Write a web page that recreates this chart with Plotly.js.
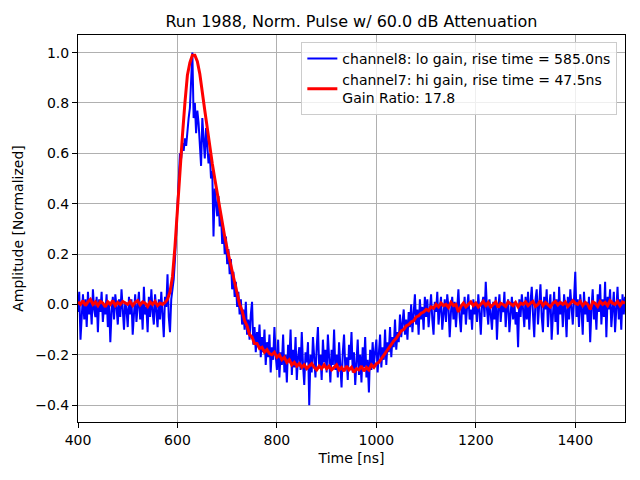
<!DOCTYPE html>
<html>
<head>
<meta charset="utf-8">
<script src="https://cdn.plot.ly/plotly-3.0.1.min.js"></script>
<style>html,body{margin:0;padding:0;background:#fff;}#chart{width:640px;height:480px;}</style>
</head>
<body>
<div id="chart"></div>
<script>
// Time axis start (ns) and sample steps (ns)
const tStart = 400;
const stepCh8 = 2.5;
const stepCh7 = 5;

// channel8: lo gain (blue), one value per 2.5 ns from 400 to 1500 ns
const ch8_400 = [-0.03, 0.05, -0.14, -0.02, 0.04, -0.06, 0.02, -0.09, 0.05, -0.04, 0.01, -0.08, 0.06, -0.02, -0.05, 0.03, -0.11, 0.02, -0.03, 0.05,
                 -0.07, 0.00, -0.04, 0.04, -0.09, 0.01, -0.15, -0.03, 0.03, -0.06, 0.04, -0.01, -0.08, 0.02, -0.05, 0.06, -0.03, -0.10, 0.01, -0.02];
const ch8_500 = [-0.09, 0.03, -0.04, 0.02, -0.12, -0.01, 0.04, -0.07, -0.02, 0.05, -0.06, 0.01, -0.10, 0.07, -0.04, -0.01, -0.11, 0.03, -0.05, 0.06,
                 -0.03, -0.08, 0.04, -0.02, -0.09, 0.02, -0.06, 0.05, -0.04, -0.13, 0.03, -0.01, 0.12, -0.05, -0.11, 0.02, 0.06, 0.10, 0.18, 0.30];
const ch8_600 = [0.42, 0.52, 0.60, 0.58, 0.64, 0.61, 0.66, 0.63, 0.70, 0.74, 0.78, 0.88, 1.00, 0.74, 0.80, 0.68, 0.77, 0.72, 0.62, 0.55,
                 0.74, 0.66, 0.58, 0.70, 0.62, 0.56, 0.60, 0.50, 0.53, 0.27, 0.46, 0.40, 0.35, 0.43, 0.31, 0.36, 0.24, 0.30, 0.20, 0.27];
const ch8_700 = [0.16, 0.22, 0.12, 0.18, 0.06, 0.13, 0.03, 0.09, -0.01, 0.05, -0.04, 0.02, -0.08, -0.02, -0.10, 0.01, -0.12, -0.06, -0.14, -0.04,
                 0.01, -0.16, -0.09, -0.19, -0.11, -0.17, -0.08, -0.21, -0.13, -0.19, -0.10, -0.24, -0.15, -0.21, -0.12, -0.27, -0.17, -0.22, -0.09, -0.20];
const ch8_800 = [-0.26, -0.14, -0.29, -0.19, -0.24, -0.12, -0.27, -0.20, -0.31, -0.16, -0.22, -0.10, -0.28, -0.18, -0.25, -0.13, -0.30, -0.21, -0.17, -0.26,
                 -0.11, -0.24, -0.32, -0.19, -0.23, -0.15, -0.40, -0.20, -0.27, -0.13, -0.22, -0.29, -0.17, -0.09, -0.25, -0.20, -0.30, -0.14, -0.23, -0.18];
const ch8_900 = [-0.27, -0.12, -0.21, -0.31, -0.18, -0.24, -0.10, -0.26, -0.20, -0.29, -0.15, -0.23, -0.33, -0.19, -0.12, -0.25, -0.21, -0.30, -0.16, -0.22,
                 -0.11, -0.27, -0.19, -0.32, -0.24, -0.14, -0.28, -0.20, -0.31, -0.17, -0.25, -0.13, -0.29, -0.22, -0.35, -0.18, -0.26, -0.15, -0.24, -0.19];
const ch8_1000 = [-0.14, -0.27, -0.20, -0.12, -0.25, -0.17, -0.22, -0.10, -0.24, -0.15, -0.19, -0.09, -0.21, -0.13, -0.17, -0.06, -0.18, -0.11, -0.15, -0.04,
                  -0.13, -0.08, -0.02, -0.12, -0.06, -0.14, -0.03, -0.09, 0.00, -0.11, -0.05, 0.04, -0.08, -0.02, -0.12, 0.02, -0.06, -0.01, -0.10, 0.03];
const ch8_1100 = [-0.05, 0.02, -0.09, -0.01, 0.04, -0.06, -0.12, 0.01, -0.03, 0.05, -0.08, -0.02, 0.03, -0.10, -0.04, 0.02, -0.07, 0.04, -0.01, -0.13,
                  -0.03, 0.03, -0.06, 0.01, -0.09, -0.02, 0.06, -0.05, -0.11, 0.00, -0.04, 0.03, -0.08, -0.01, 0.04, -0.06, -0.02, -0.10, 0.02, -0.04];
const ch8_1200 = [0.01, -0.07, 0.04, -0.03, -0.12, 0.00, 0.03, -0.05, 0.09, -0.02, -0.08, 0.02, -0.04, -0.10, 0.01, -0.06, 0.03, -0.14, -0.02, 0.04,
                  -0.07, 0.00, -0.03, 0.05, -0.09, -0.01, 0.02, -0.11, -0.04, 0.03, -0.06, 0.01, -0.08, -0.03, -0.17, 0.02, -0.05, 0.04, -0.02, -0.09];
const ch8_1300 = [0.03, -0.06, 0.05, -0.10, 0.01, 0.07, -0.04, -0.13, 0.02, 0.06, -0.08, 0.00, 0.08, -0.05, -0.11, 0.03, -0.02, 0.06, -0.09, -0.01,
                  0.04, -0.14, -0.03, 0.05, -0.07, 0.02, -0.12, 0.07, -0.04, 0.01, -0.09, 0.04, -0.02, -0.13, 0.03, -0.06, 0.06, -0.03, -0.08, 0.02];
const ch8_1400 = [0.13, -0.05, 0.02, -0.09, 0.04, -0.02, -0.12, 0.05, -0.04, 0.01, -0.07, 0.03, -0.15, -0.02, 0.06, -0.06, 0.00, -0.10, 0.04, -0.03,
                  0.08, -0.08, 0.02, -0.05, 0.09, -0.13, 0.03, -0.02, 0.06, -0.09, 0.01, 0.05, -0.11, -0.03, 0.07, -0.06, 0.02, -0.10, 0.04, -0.04, 0.03];

// channel7: hi gain (red), one value per 5 ns from 400 to 1500 ns
const ch7_400 = [0.010, 0.000, 0.015, -0.005, 0.010, 0.020, 0.000, 0.010, -0.005, 0.012, 0.005, -0.010, 0.010, 0.000, 0.015, -0.005, 0.008, 0.000, 0.012, 0.005];
const ch7_500 = [0.000, 0.012, -0.005, 0.008, 0.015, -0.002, 0.010, 0.005, -0.008, 0.010, 0.000, 0.012, -0.005, 0.005, 0.000, 0.008, 0.020, 0.050, 0.110, 0.230];
const ch7_600 = [0.38, 0.56, 0.67, 0.80, 0.91, 0.96, 0.99, 0.99, 0.965, 0.915, 0.85, 0.77, 0.70, 0.62, 0.56, 0.50, 0.44, 0.38, 0.32, 0.27];
const ch7_700 = [0.220, 0.175, 0.135, 0.080, 0.045, 0.000, -0.025, -0.065, -0.085, -0.120, -0.130, -0.155, -0.155, -0.175, -0.170, -0.190, -0.180, -0.195, -0.200, -0.190];
const ch7_800 = [-0.210, -0.200, -0.220, -0.210, -0.230, -0.220, -0.240, -0.230, -0.245, -0.235, -0.250, -0.240, -0.255, -0.245, -0.235, -0.250, -0.260, -0.245, -0.255, -0.240];
const ch7_900 = [-0.255, -0.245, -0.260, -0.250, -0.240, -0.260, -0.250, -0.265, -0.245, -0.260, -0.250, -0.270, -0.255, -0.260, -0.245, -0.265, -0.250, -0.260, -0.240, -0.250];
const ch7_1000 = [-0.235, -0.230, -0.215, -0.200, -0.190, -0.170, -0.160, -0.145, -0.135, -0.120, -0.105, -0.100, -0.085, -0.080, -0.070, -0.065, -0.050, -0.045, -0.035, -0.030];
const ch7_1100 = [-0.020, -0.025, -0.010, -0.015, 0.000, -0.010, 0.005, -0.005, 0.000, -0.012, 0.008, -0.005, 0.000, -0.030, -0.008, 0.005, -0.010, 0.000, 0.010, -0.005];
const ch7_1200 = [0.005, -0.010, 0.000, 0.012, -0.005, 0.008, -0.010, 0.000, 0.010, -0.012, 0.005, 0.000, -0.008, 0.010, 0.002, -0.005, 0.008, -0.010, 0.005, 0.000];
const ch7_1300 = [0.010, -0.005, 0.005, 0.012, -0.008, 0.000, 0.015, -0.005, 0.008, 0.000, -0.010, 0.005, 0.012, -0.002, 0.008, 0.000, 0.010, -0.008, 0.005, 0.015];
const ch7_1400 = [0.005, 0.000, 0.012, -0.005, 0.008, 0.000, -0.020, 0.010, 0.005, -0.008, 0.012, 0.000, 0.008, -0.005, 0.015, 0.005, 0.000, 0.012, -0.005, 0.010, 0.005];

const xTicks = [400, 600, 800, 1000, 1200, 1400];
const yTicks = [-0.4, -0.2, 0.0, 0.2, 0.4, 0.6, 0.8, 1.0];

const ch8 = [].concat(ch8_400, ch8_500, ch8_600, ch8_700, ch8_800, ch8_900, ch8_1000, ch8_1100, ch8_1200, ch8_1300, ch8_1400);
const ch7 = [].concat(ch7_400, ch7_500, ch7_600, ch7_700, ch7_800, ch7_900, ch7_1000, ch7_1100, ch7_1200, ch7_1300, ch7_1400);
const t8 = ch8.map((_, i) => tStart + i * stepCh8);
const t7 = ch7.map((_, i) => tStart + i * stepCh7);

const font = "DejaVu Sans, sans-serif";

const traces = [
  {x: t8, y: ch8, type: 'scatter', mode: 'lines', name: 'channel8: lo gain, rise time = 585.0ns',
   line: {color: '#0000ff', width: 2}},
  {x: t7, y: ch7, type: 'scatter', mode: 'lines', name: 'channel7: hi gain, rise time = 47.5ns<br>Gain Ratio: 17.8',
   line: {color: '#ff0000', width: 3}}
];

const layout = {
  width: 640, height: 480,
  margin: {l: 78, r: 15, t: 35, b: 58},
  paper_bgcolor: '#fff', plot_bgcolor: '#fff',
  font: {family: font, size: 14, color: '#000'},
  title: {text: 'Run 1988, Norm. Pulse w/ 60.0 dB Attenuation', font: {family: font, size: 16, color: '#000'},
          x: 0.549, xref: 'container', xanchor: 'center', y: 1 - 21/480, yref: 'container', yanchor: 'middle'},
  xaxis: {range: [400, 1500], tickvals: xTicks, ticktext: xTicks.map(String),
          showgrid: true, gridcolor: '#b0b0b0', gridwidth: 1,
          showline: true, linecolor: '#000', linewidth: 1, mirror: true,
          ticks: 'outside', ticklen: 5, tickcolor: '#000', tickwidth: 1,
          zeroline: false, tickfont: {family: font, size: 14},
          title: {text: 'Time [ns]', font: {family: font, size: 14}, standoff: 6}},
  yaxis: {range: [-0.467, 1.07], tickvals: yTicks, tickformat: '.1f',
          showgrid: true, gridcolor: '#b0b0b0', gridwidth: 1,
          showline: true, linecolor: '#000', linewidth: 1, mirror: true,
          ticks: 'outside', ticklen: 5, tickcolor: '#000', tickwidth: 1,
          zeroline: false, tickfont: {family: font, size: 14},
          title: {text: 'Amplitude [Normalized]', font: {family: font, size: 14}, standoff: 8}},
  showlegend: true,
  legend: {x: 0.986, y: 0.982, xanchor: 'right', yanchor: 'top',
           bgcolor: 'rgba(255,255,255,0.8)', bordercolor: '#cccccc', borderwidth: 1,
           font: {family: font, size: 14, color: '#000'}, tracegroupgap: 0, itemwidth: 30}
};

Plotly.newPlot('chart', traces, layout, {staticPlot: true, displayModeBar: false});
</script>
</body>
</html>
